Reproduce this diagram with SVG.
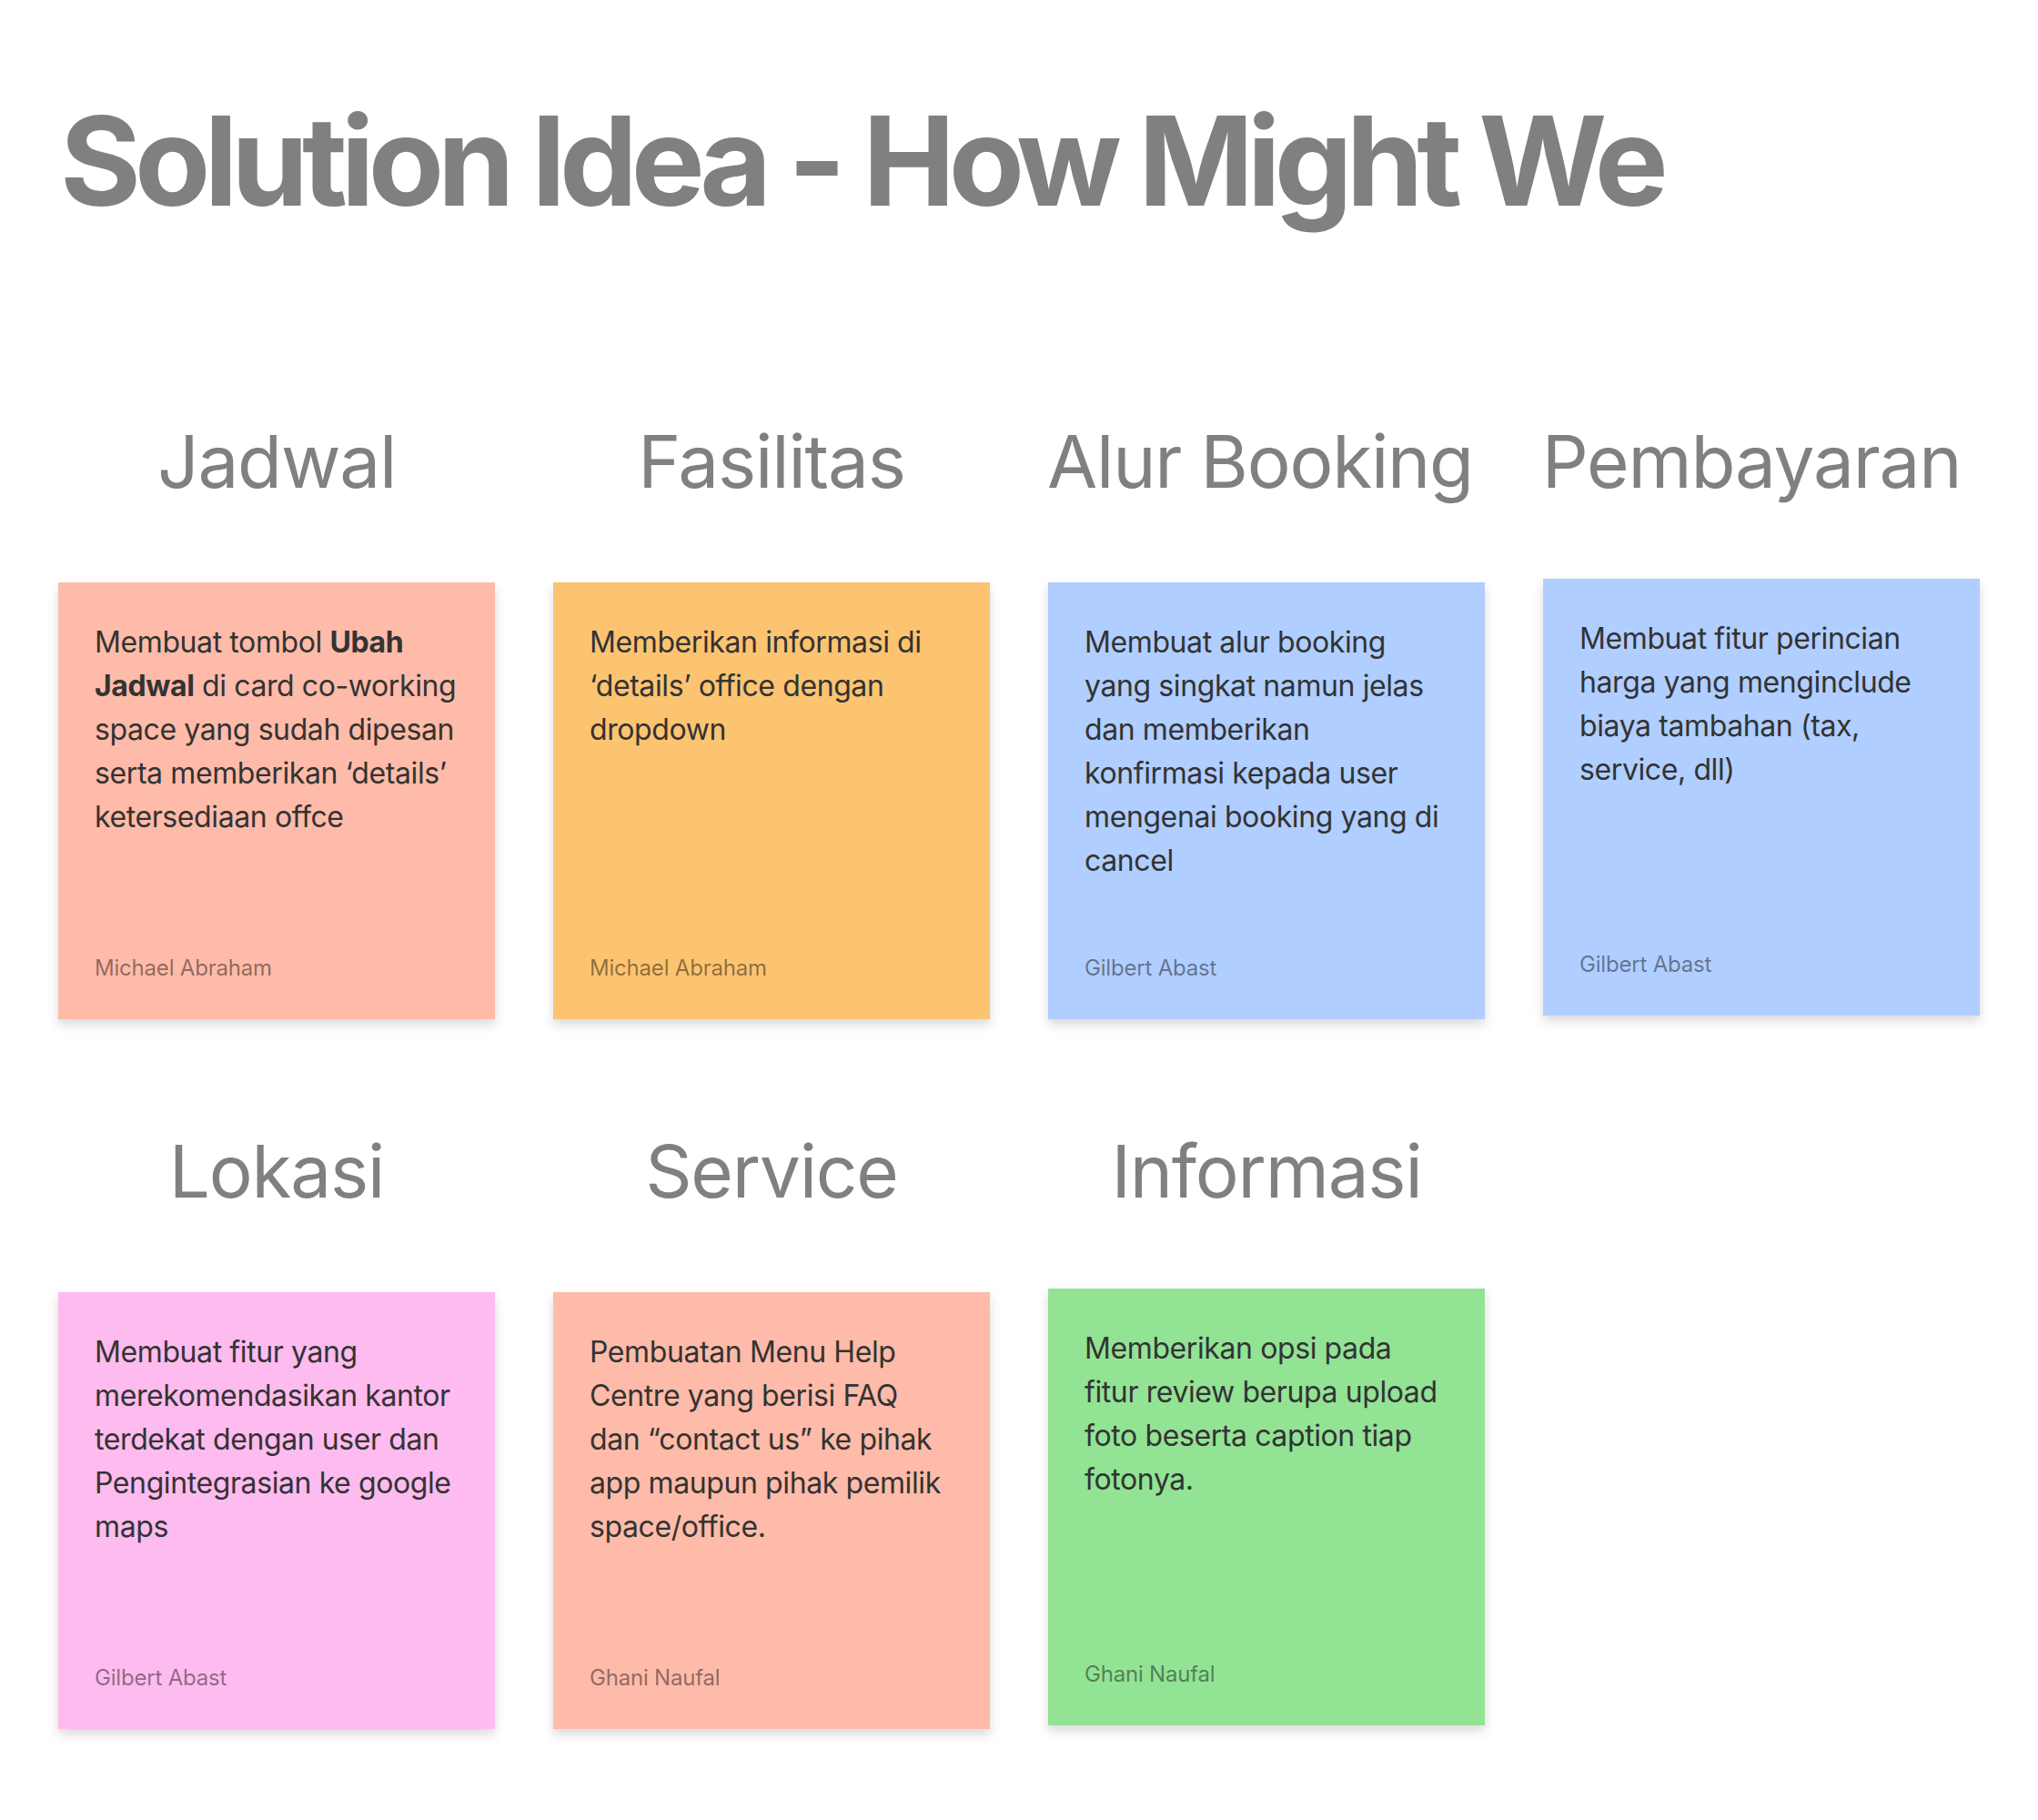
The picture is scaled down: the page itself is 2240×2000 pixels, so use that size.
<svg xmlns="http://www.w3.org/2000/svg" width="2240" height="2000" viewBox="0 0 2240 2000">
<defs>
<filter id="sh" x="-10%" y="-10%" width="120%" height="125%">
<feDropShadow dx="0" dy="6" stdDeviation="6" flood-color="#000" flood-opacity="0.15"/>
</filter>
<style>
.title{font-family:Inter,"Noto Sans",sans-serif;font-weight:700;font-size:136px;fill:#808080;letter-spacing:-7px}
.head{font-family:Inter,"Noto Sans",sans-serif;font-weight:400;font-size:80px;fill:#808080;text-anchor:middle;letter-spacing:-1.2px}
.body{font-family:Inter,"Noto Sans",sans-serif;font-weight:400;font-size:32px;fill:#333333;letter-spacing:-0.4px}
.auth{font-family:Inter,"Noto Sans",sans-serif;font-weight:400;font-size:24px;fill:#000000;fill-opacity:0.45;letter-spacing:-0.2px}
.card{filter:url(#sh)}
.salmon{fill:#FFBBA9}
.orange{fill:#FCC470}
.blue{fill:#B0CEFF}
.pink{fill:#FEBBEF}
.green{fill:#93E395}
</style>
</defs>
<rect width="2240" height="2000" fill="#FFFFFF"/>
<text class="title" x="66" y="226">Solution Idea - How Might We</text>

<g id="jadwal">
<text class="head" x="304" y="536">Jadwal</text>
<rect class="card salmon" x="64" y="640" width="480" height="480"/>
<text class="body" x="104" y="717"><tspan x="104">Membuat tombol <tspan font-weight="700">Ubah</tspan></tspan><tspan x="104" dy="48"><tspan font-weight="700">Jadwal</tspan> di card co-working</tspan><tspan x="104" dy="48">space yang sudah dipesan</tspan><tspan x="104" dy="48">serta memberikan ‘details’</tspan><tspan x="104" dy="48">ketersediaan offce</tspan></text>
<text class="auth" x="104" y="1072">Michael Abraham</text>
</g>

<g id="fasilitas">
<text class="head" x="848" y="536">Fasilitas</text>
<rect class="card orange" x="608" y="640" width="480" height="480"/>
<text class="body" x="648" y="717"><tspan x="648">Memberikan informasi di</tspan><tspan x="648" dy="48">‘details’ office dengan</tspan><tspan x="648" dy="48">dropdown</tspan></text>
<text class="auth" x="648" y="1072">Michael Abraham</text>
</g>

<g id="alur-booking">
<text class="head" x="1385" y="536">Alur Booking</text>
<rect class="card blue" x="1152" y="640" width="480" height="480"/>
<text class="body" x="1192" y="717"><tspan x="1192">Membuat alur booking</tspan><tspan x="1192" dy="48">yang singkat namun jelas</tspan><tspan x="1192" dy="48">dan memberikan</tspan><tspan x="1192" dy="48">konfirmasi kepada user</tspan><tspan x="1192" dy="48">mengenai booking yang di</tspan><tspan x="1192" dy="48">cancel</tspan></text>
<text class="auth" x="1192" y="1072">Gilbert Abast</text>
</g>

<g id="pembayaran">
<text class="head" x="1925" y="536">Pembayaran</text>
<rect class="card blue" x="1696" y="636" width="480" height="480"/>
<text class="body" x="1736" y="713"><tspan x="1736">Membuat fitur perincian</tspan><tspan x="1736" dy="48">harga yang menginclude</tspan><tspan x="1736" dy="48">biaya tambahan (tax,</tspan><tspan x="1736" dy="48">service, dll)</tspan></text>
<text class="auth" x="1736" y="1068">Gilbert Abast</text>
</g>

<g id="lokasi">
<text class="head" x="304" y="1316">Lokasi</text>
<rect class="card pink" x="64" y="1420" width="480" height="480"/>
<text class="body" x="104" y="1497"><tspan x="104">Membuat fitur yang</tspan><tspan x="104" dy="48">merekomendasikan kantor</tspan><tspan x="104" dy="48">terdekat dengan user dan</tspan><tspan x="104" dy="48">Pengintegrasian ke google</tspan><tspan x="104" dy="48">maps</tspan></text>
<text class="auth" x="104" y="1852">Gilbert Abast</text>
</g>

<g id="service">
<text class="head" x="848" y="1316">Service</text>
<rect class="card salmon" x="608" y="1420" width="480" height="480"/>
<text class="body" x="648" y="1497"><tspan x="648">Pembuatan Menu Help</tspan><tspan x="648" dy="48">Centre yang berisi FAQ</tspan><tspan x="648" dy="48">dan “contact us” ke pihak</tspan><tspan x="648" dy="48">app maupun pihak pemilik</tspan><tspan x="648" dy="48">space/office.</tspan></text>
<text class="auth" x="648" y="1852">Ghani Naufal</text>
</g>

<g id="informasi">
<text class="head" x="1392" y="1316">Informasi</text>
<rect class="card green" x="1152" y="1416" width="480" height="480"/>
<text class="body" x="1192" y="1493"><tspan x="1192">Memberikan opsi pada</tspan><tspan x="1192" dy="48">fitur review berupa upload</tspan><tspan x="1192" dy="48">foto beserta caption tiap</tspan><tspan x="1192" dy="48">fotonya.</tspan></text>
<text class="auth" x="1192" y="1848">Ghani Naufal</text>
</g>

<g id="connectors"/>
</svg>
